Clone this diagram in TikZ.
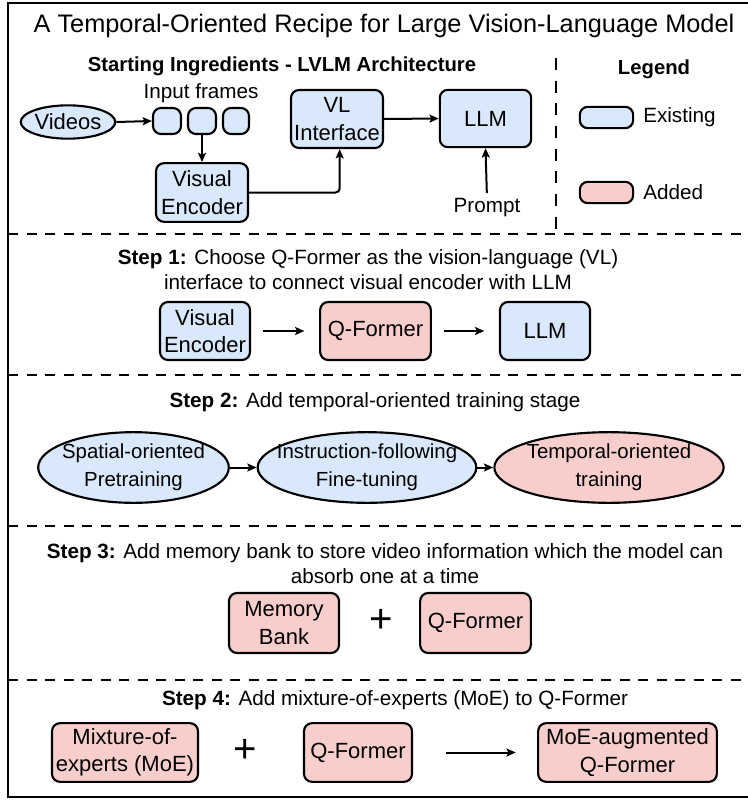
\documentclass[tikz,border=0pt]{standalone}
\usepackage{fontspec}
\setmainfont{Liberation Sans}
\usetikzlibrary{arrows.meta,shapes.geometric}
\definecolor{exblue}{HTML}{DAE8FC}
\definecolor{adpink}{HTML}{F8CECC}
\tikzset{
  box/.style={draw=black, line width=1.6pt, rounded corners=6pt, align=center, inner sep=1pt,
    font=\fontsize{16.5}{20.5}\selectfont},
  bluebox/.style={box, fill=exblue},
  pinkbox/.style={box, fill=adpink},
  oval/.style={draw=black, line width=1.6pt, ellipse, inner sep=0pt},
  ovaltext/.style={align=center, inner sep=0pt, font=\fontsize{15.3}{21}\selectfont},
  arr/.style={line width=1.5pt, -{Stealth[length=7pt,width=6pt,inset=1.5pt]}},
  sep/.style={line width=2.2pt, dash pattern=on 7.5pt off 6.4pt},
  txt/.style={align=center, inner sep=0pt, font=\fontsize{15.5}{19}\selectfont},
  plus/.style={inner sep=0pt, font=\fontsize{30}{30}\selectfont},
}
\begin{document}
\begin{tikzpicture}[x=0.75pt,y=-0.75pt]
\useasboundingbox (0,0) rectangle (747,800);
% outer frame
\draw[line width=1.6pt] (760,3) -- (8,3) -- (8,797) -- (760,797);
% title
\node[inner sep=0pt, font=\fontsize{19}{22}\selectfont] (title) at (384,26) {A Temporal-Oriented Recipe for Large Vision-Language Model};

% ---------- Starting ingredients ----------
\node[txt, font=\fontsize{15.2}{19}\selectfont\bfseries] (start) at (282,66) {Starting Ingredients - LVLM Architecture};
\node[draw=black, line width=1.6pt, ellipse, inner sep=0pt, fill=exblue, minimum width=63pt, minimum height=25pt, font=\fontsize{16.5}{20.5}\selectfont] (vid) at (68,122) {Videos};
\node[txt] (inframes) at (201,93) {Input frames};
\node[bluebox, minimum width=21pt, minimum height=19.5pt] (f1) at (167,121) {};
\node[bluebox, minimum width=21pt, minimum height=19.5pt] (f2) at (202,121) {};
\node[bluebox, minimum width=19.5pt, minimum height=19.5pt] (f3) at (236,121) {};
\node[bluebox, minimum width=69pt, minimum height=44pt] (ve0) at (202,192.5) {Visual\\Encoder};
\node[bluebox, minimum width=69pt, minimum height=43.5pt] (vl) at (337,119) {VL\\Interface};
\node[bluebox, minimum width=68.5pt, minimum height=43pt] (llm0) at (485.5,118.5) {LLM};
\node[txt] (prompt) at (487,208) {Prompt};
\draw[arr] (vid.east) -- (f1.west);
\draw[arr] (f2.south) -- (ve0.north);
\draw[arr, rounded corners=3pt] (ve0.east) -| ([xshift=2]vl.south);
\draw[arr] (vl.east) -- (llm0.west);
\draw[arr, shorten <=4pt] (prompt.north) -- (llm0.south);

% legend
\node[txt, font=\fontsize{15.2}{19}\selectfont\bfseries] (legend) at (654,69) {Legend};
\node[bluebox, minimum width=40pt, minimum height=16pt] (lex) at (606.5,117.5) {};
\node[txt, anchor=west] (lext) at (643,117.5) {Existing};
\node[pinkbox, minimum width=40pt, minimum height=16pt] (lad) at (606.5,192.5) {};
\node[txt, anchor=west] (ladt) at (643,192.5) {Added};

% separators
\coordinate (vtop) at (556,58);
\coordinate (vbot) at (556,234);
\draw[line width=2.2pt, dash pattern=on 9pt off 8pt] (vtop) -- (vbot);
\coordinate (s1l) at (8,234);  \coordinate (s1r) at (760,234);
\coordinate (s2l) at (8,375);  \coordinate (s2r) at (760,375);
\coordinate (s3l) at (8,526);  \coordinate (s3r) at (760,526);
\coordinate (s4l) at (8,680);  \coordinate (s4r) at (760,680);
\draw[sep] (s1l) -- (s1r);
\draw[sep] (s2l) -- (s2r);
\draw[sep] (s3l) -- (s3r);
\draw[sep] (s4l) -- (s4r);

% ---------- Step 1 ----------
\node[txt] (st1) at (368,269.5) {\textbf{Step 1:} Choose Q-Former as the vision-language (VL)\\interface to connect visual encoder with LLM};
\node[bluebox, minimum width=67.5pt, minimum height=43.5pt] (ve1) at (205,331) {Visual\\Encoder};
\node[pinkbox, minimum width=83pt, minimum height=43.5pt] (qf1) at (375.5,331) {Q-Former};
\node[bluebox, minimum width=67.5pt, minimum height=43.5pt] (llm1) at (545,331) {LLM};
\draw[arr, shorten <=9pt, shorten >=11pt] (ve1.east) -- (qf1.west);
\draw[arr, shorten <=9pt, shorten >=11pt] (qf1.east) -- (llm1.west);

% ---------- Step 2 ----------
\node[txt] (st2) at (375,402) {\textbf{Step 2:} Add temporal-oriented training stage};
\node[oval, fill=exblue, minimum width=143pt, minimum height=53pt] (e1) at (133.5,467.5) {};
\node[oval, fill=exblue, minimum width=164pt, minimum height=53pt] (e2) at (367,467.5) {};
\node[oval, fill=adpink, minimum width=172pt, minimum height=53pt] (e3) at (609,467.5) {};
\node[ovaltext] (e1t) at (e1) {Spatial-oriented\\Pretraining};
\node[ovaltext] (e2t) at (e2) {Instruction-following\\Fine-tuning};
\node[ovaltext] (e3t) at (e3) {Temporal-oriented\\training};
\draw[arr] (e1.east) -- (e2.west);
\draw[arr] (e2.east) -- (e3.west);

% ---------- Step 3 ----------
\node[txt] (st3) at (385,563.5) {\textbf{Step 3:} Add memory bank to store video information which the model can\\absorb one at a time};
\node[pinkbox, minimum width=82.5pt, minimum height=45pt] (mb) at (284,623) {Memory\\Bank};
\node[plus] (p3) at (381,621) {+};
\node[pinkbox, minimum width=83pt, minimum height=45pt] (qf3) at (475.5,623) {Q-Former};

% ---------- Step 4 ----------
\node[txt] (st4) at (395,700) {\textbf{Step 4:} Add mixture-of-experts (MoE) to Q-Former};
\node[pinkbox, minimum width=109.5pt, minimum height=44pt] (moe) at (125,752.5) {Mixture-of-\\experts (MoE)};
\node[plus] (p4) at (245,751) {+};
\node[pinkbox, minimum width=81pt, minimum height=44pt] (qf4) at (358,752.5) {Q-Former};
\node[pinkbox, minimum width=134pt, minimum height=44pt] (moeq) at (627.5,752.5) {MoE-augmented\\Q-Former};
\draw[arr, shorten <=25pt, shorten >=16pt] (qf4.east) -- (moeq.west);
\end{tikzpicture}
\end{document}
